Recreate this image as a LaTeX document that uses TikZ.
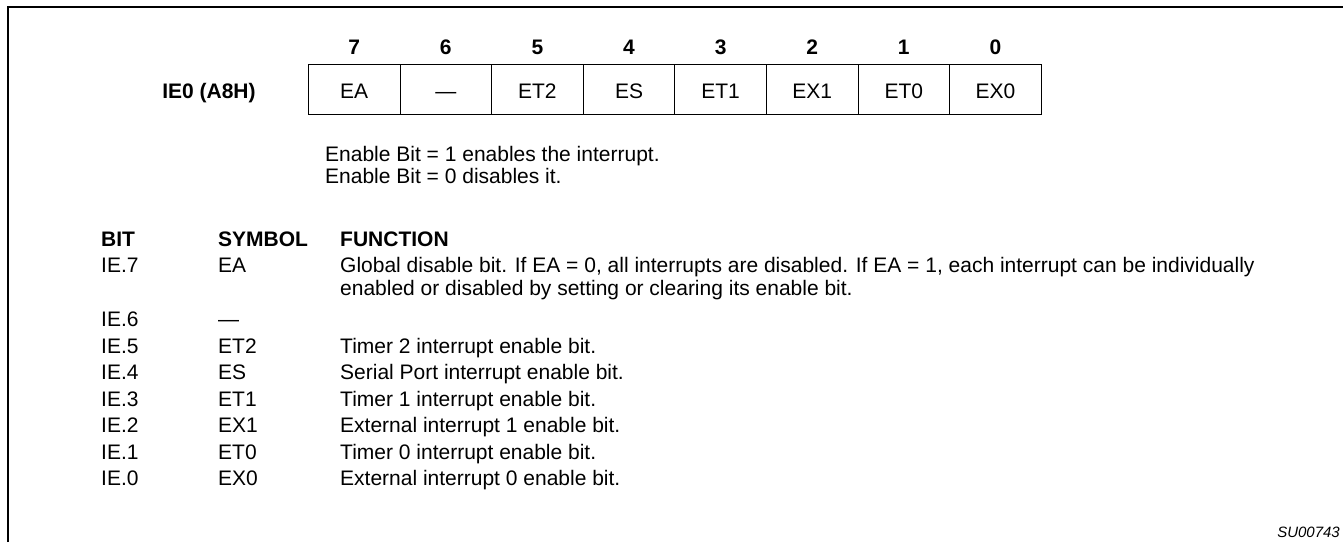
\documentclass[tikz,border=0pt]{standalone}
\usepackage{fontspec}
\setmainfont{Liberation Sans}
\usetikzlibrary{calc}
\begin{document}
\begin{tikzpicture}[x=1pt,y=-1pt,
  txt/.style={inner sep=0pt,anchor=base west,font=\fontsize{21}{24}\selectfont},
  btxt/.style={txt,font=\fontsize{21}{24}\selectfont\bfseries},
  cell/.style={draw,line width=0.8pt,minimum width=91.6pt,minimum height=50pt,inner sep=0pt,anchor=north west},
  celltxt/.style={inner sep=0pt,anchor=base,font=\fontsize{21}{24}\selectfont},
  bitnum/.style={inner sep=0pt,anchor=base,font=\fontsize{21}{24}\selectfont\bfseries}]
\useasboundingbox (0,0) rectangle (1343,542);
\draw[line width=2.6pt] (8,542) -- (8,7) -- (1343,7);
% register
\node[btxt,anchor=base] (reg) at (209,98) {IE0 (A8H)};
\foreach \i/\n/\s in {0/7/EA,1/6/---,2/5/ET2,3/4/ES,4/3/ET1,5/2/EX1,6/1/ET0,7/0/EX0}{
  \node[cell] (c\i) at (308+91.6*\i,64) {};
  \node[celltxt] (t\i) at ($(c\i.north)+(0,34)$) {\s};
  \node[bitnum] (n\i) at ($(c\i.north)+(0,-10)$) {\n};
}
\node[txt] (en1) at (325,161) {Enable Bit = 1 enables the interrupt.};
\node[txt] (en2) at (325,183) {Enable Bit = 0 disables it.};
% table
\node[btxt] (hb) at (101,246) {BIT};
\node[btxt] (hs) at (218,246) {SYMBOL};
\node[btxt] (hf) at (340,246) {FUNCTION};
\node[txt] (b7) at (101,272) {IE.7};
\node[txt] (s7) at (218,272) {EA};
\node[txt] (f7) at (340,272) {Global disable bit. If EA = 0, all interrupts are disabled. If EA = 1, each interrupt can be individually};
\node[txt] (f7b) at (340,295) {enabled or disabled by setting or clearing its enable bit.};
\node[txt] (b6) at (101,326) {IE.6};
\node[txt] (s6) at (218,326) {---};
\foreach \k/\b/\s/\f in {0/IE.5/ET2/{Timer 2 interrupt enable bit.},1/IE.4/ES/{Serial Port interrupt enable bit.},2/IE.3/ET1/{Timer 1 interrupt enable bit.},3/IE.2/EX1/{External interrupt 1 enable bit.},4/IE.1/ET0/{Timer 0 interrupt enable bit.},5/IE.0/EX0/{External interrupt 0 enable bit.}}{
  \node[txt] (b\k) at (101,353+26.5*\k) {\b};
  \node[txt] (s\k) at (218,353+26.5*\k) {\s};
  \node[txt] (f\k) at (340,353+26.5*\k) {\f};
}
\node[inner sep=0pt,anchor=base east,font=\fontsize{15}{18}\selectfont\itshape] (id) at (1340,537) {SU00743};
\end{tikzpicture}
\end{document}
